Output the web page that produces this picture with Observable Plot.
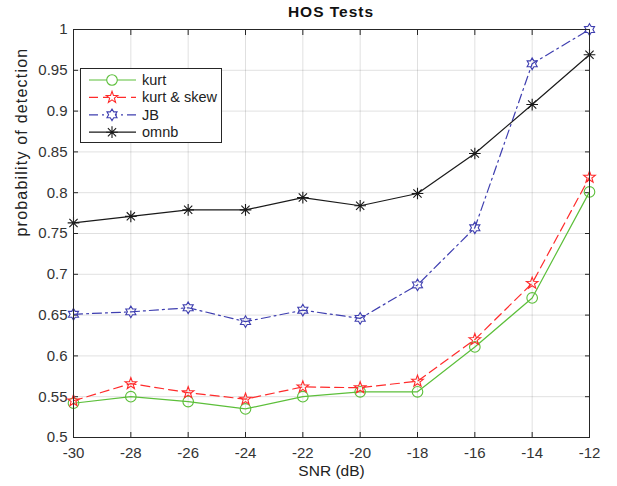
<!DOCTYPE html>
<html><head><meta charset="utf-8">
<script src="https://cdn.jsdelivr.net/npm/d3@7"></script>
<script src="https://cdn.jsdelivr.net/npm/@observablehq/plot@0.6"></script>
<style>
body{margin:0;background:#fff;font-family:"Liberation Sans",Arial,sans-serif;}
#wrap{position:relative;width:617px;height:486px;}
#title{position:absolute;top:3px;left:231px;width:200px;text-align:center;font-weight:bold;font-size:15.5px;letter-spacing:1px;color:#111;}
#legend{position:absolute;left:80px;top:68px;}
</style></head><body>
<div id="wrap"><div id="chart"></div><div id="title">HOS Tests</div><svg id="legend" width="143" height="76"></svg></div>
<script>
const snr = [-30, -28, -26, -24, -22, -20, -18, -16, -14, -12];
const kurt = [0.542, 0.550, 0.544, 0.535, 0.550, 0.556, 0.556, 0.611, 0.671, 0.801];
const kurtSkew = [0.545, 0.566, 0.555, 0.547, 0.562, 0.561, 0.569, 0.620, 0.689, 0.819];
const jb = [0.651, 0.654, 0.659, 0.642, 0.656, 0.646, 0.687, 0.757, 0.958, 1.000];
const omnb = [0.763, 0.771, 0.779, 0.779, 0.794, 0.784, 0.799, 0.848, 0.908, 0.969];
const seriesNames = ["kurt", "kurt & skew", "JB", "omnb"];
const seriesValues = [kurt, kurtSkew, jb, omnb];
const xTicks = [-30, -28, -26, -24, -22, -20, -18, -16, -14, -12];
const yTicks = [0.5, 0.55, 0.6, 0.65, 0.7, 0.75, 0.8, 0.85, 0.9, 0.95, 1];
const xLabel = "SNR (dB)";
const yLabel = "probability of detection";

const colors = ["#5cbf3a", "#ff2b2b", "#3f3fb0", "#1a1a1a"];
const dashes = [null, "9,5", "9,4,2,4", null];
const font = "'Liberation Sans', Arial, sans-serif";

function starPath(ctx, n, R, ri) {
  for (let i = 0; i < 2 * n; i++) {
    const a = -Math.PI / 2 + i * Math.PI / n;
    const rr = i % 2 ? ri : R;
    const x = rr * Math.cos(a), y = rr * Math.sin(a);
    i ? ctx.lineTo(x, y) : ctx.moveTo(x, y);
  }
  ctx.closePath();
}
const pentagram = {draw(ctx, size) { const r = Math.sqrt(size / Math.PI); starPath(ctx, 5, r * 1.15, r * 0.47); }};
const hexagram = {draw(ctx, size) { const r = Math.sqrt(size / Math.PI); starPath(ctx, 6, r * 1.1, r * 0.64); }};
const aster8 = {draw(ctx, size) {
  const r = Math.sqrt(size / Math.PI) * 1.1;
  for (let k = 0; k < 4; k++) {
    const a = k * Math.PI / 4;
    ctx.moveTo(-r * Math.cos(a), -r * Math.sin(a));
    ctx.lineTo(r * Math.cos(a), r * Math.sin(a));
  }
}};
const symbols = [d3.symbolCircle, pentagram, hexagram, aster8];

const data = [];
seriesNames.forEach((name, i) => snr.forEach((x, j) => data.push({series: name, idx: i, x, y: seriesValues[i][j]})));

const marks = [
  Plot.gridX(xTicks, {stroke: "#000", strokeOpacity: 0.12}),
  Plot.gridY(yTicks, {stroke: "#000", strokeOpacity: 0.12}),
  Plot.axisX(xTicks, {tickSize: 0, tickPadding: 10, tickFormat: d => String(d), fontSize: 15, fill: "#333", label: null}),
  Plot.axisY(yTicks, {tickSize: 0, tickPadding: 6, tickFormat: d => String(d), fontSize: 15, fill: "#333", label: null}),
  Plot.axisX(xTicks, {anchor: "bottom", tickSize: -5, tickFormat: () => "", label: null, stroke: "#262626"}),
  Plot.axisX(xTicks, {anchor: "top", tickSize: -5, tickFormat: () => "", label: null, stroke: "#262626"}),
  Plot.axisY(yTicks, {anchor: "left", tickSize: -5, tickFormat: () => "", label: null, stroke: "#262626"}),
  Plot.axisY(yTicks, {anchor: "right", tickSize: -5, tickFormat: () => "", label: null, stroke: "#262626"}),
  Plot.text([xLabel], {frameAnchor: "bottom", dy: 34, fontSize: 15.5, fill: "#222", lineAnchor: "middle", text: d => d}),
  Plot.text([yLabel], {frameAnchor: "left", dx: -52, dy: 3, rotate: -90, fontSize: 16, fill: "#222", text: d => d})
];
seriesNames.forEach((name, i) => {
  const d = data.filter(e => e.idx === i);
  marks.push(Plot.line(d, {x: "x", y: "y", stroke: colors[i], strokeWidth: 1.2, strokeDasharray: dashes[i]}));
  marks.push(Plot.dot(d, {x: "x", y: "y", stroke: colors[i], fill: "none", r: 5.3, strokeWidth: 1.1, symbol: () => symbols[i]}));
});
marks.push(Plot.frame({stroke: "#262626", strokeWidth: 1}));

const chart = Plot.plot({
  width: 617, height: 486,
  marginLeft: 73, marginRight: 28, marginTop: 29, marginBottom: 49,
  style: {fontFamily: font, fontSize: "15px", color: "#222", background: "#fff"},
  x: {domain: [-30, -12]},
  y: {domain: [0.5, 1]},
  symbol: {type: "identity"},
  marks
});
document.getElementById("chart").appendChild(chart);
d3.select(chart).selectAll("text").filter(function() { return this.textContent === yLabel; }).style("letter-spacing", "1.2px");

// legend
const lg = d3.select("#legend");
lg.append("rect").attr("x", 0.5).attr("y", 0.5).attr("width", 141).attr("height", 74).attr("fill", "#fff").attr("stroke", "#262626");
seriesNames.forEach((name, i) => {
  const cy = 12 + i * 17.4;
  const g = lg.append("g");
  g.append("line").attr("x1", 9).attr("x2", 56).attr("y1", cy).attr("y2", cy).attr("stroke", colors[i]).attr("stroke-width", 1.2).attr("stroke-dasharray", dashes[i]);
  g.append("path").attr("transform", `translate(32,${cy})`).attr("d", d3.symbol(symbols[i], 5.3 * 5.3 * Math.PI)()).attr("fill", "#fff").attr("stroke", colors[i]).attr("stroke-width", 1.1);
  g.append("text").attr("x", 62).attr("y", cy).attr("dy", "0.35em").attr("font-size", 14.5).attr("fill", "#222").attr("font-family", font).text(name);
});
</script>
</body></html>
